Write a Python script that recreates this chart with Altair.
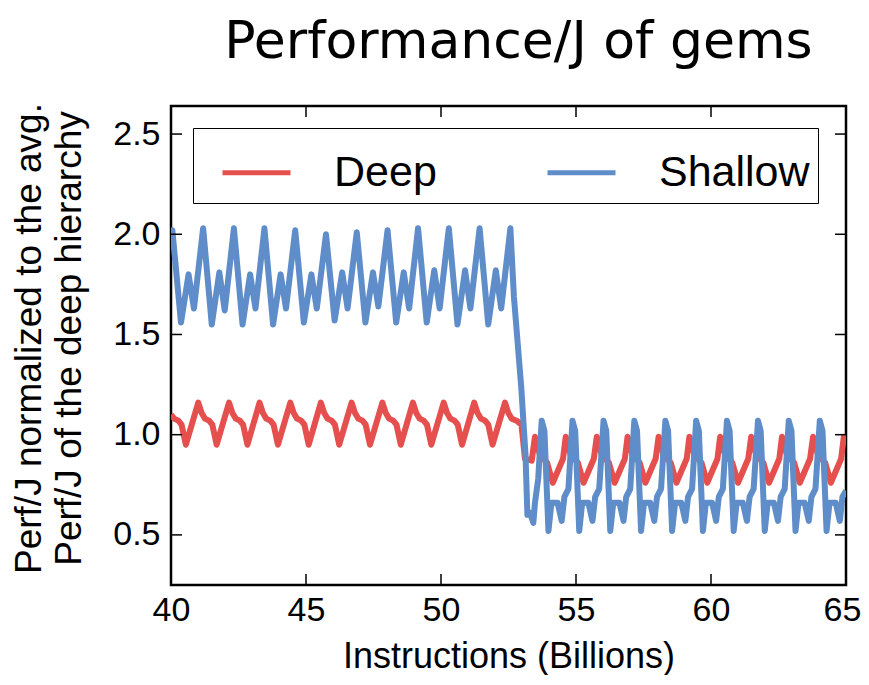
import altair as alt
import pandas as pd

# ---- data ----
deep_x = [40.00, 40.12, 40.27, 40.39, 40.55,
          41.01, 41.13, 41.26, 41.41, 41.53, 41.69,
          42.15, 42.27, 42.40, 42.55, 42.67, 42.83,
          43.28, 43.40, 43.53, 43.68, 43.80, 43.96,
          44.42, 44.54, 44.67, 44.82, 44.94, 45.10,
          45.55, 45.67, 45.80, 45.95, 46.07, 46.23,
          46.69, 46.81, 46.94, 47.09, 47.21, 47.37,
          47.83, 47.95, 48.08, 48.23, 48.35, 48.51,
          48.96, 49.08, 49.21, 49.36, 49.48, 49.64,
          50.10, 50.22, 50.35, 50.50, 50.62, 50.78,
          51.23, 51.35, 51.48, 51.63, 51.75, 51.91,
          52.37, 52.49, 52.62, 52.80, 52.98, 53.11, 53.36,
          53.48, 53.66, 53.93, 54.14, 54.33, 54.52,
          54.62, 54.80, 55.07, 55.28, 55.47, 55.66,
          55.77, 55.95, 56.22, 56.43, 56.62, 56.81,
          56.91, 57.09, 57.36, 57.57, 57.76, 57.95,
          58.06, 58.24, 58.51, 58.72, 58.91, 59.10,
          59.20, 59.38, 59.65, 59.86, 60.05, 60.24,
          60.34, 60.52, 60.79, 61.00, 61.19, 61.38,
          61.49, 61.67, 61.94, 62.15, 62.34, 62.53,
          62.63, 62.81, 63.08, 63.29, 63.48, 63.67,
          63.78, 63.96, 64.23, 64.44, 64.63, 64.82,
          64.92, 65.00]
deep_y = [1.10, 1.08, 1.07, 1.05, 0.95,
          1.16, 1.11, 1.08, 1.07, 1.05, 0.95,
          1.16, 1.11, 1.08, 1.07, 1.05, 0.95,
          1.16, 1.11, 1.08, 1.07, 1.05, 0.95,
          1.16, 1.11, 1.08, 1.07, 1.05, 0.95,
          1.16, 1.11, 1.08, 1.07, 1.05, 0.95,
          1.16, 1.11, 1.08, 1.07, 1.05, 0.95,
          1.16, 1.11, 1.08, 1.07, 1.05, 0.95,
          1.16, 1.11, 1.08, 1.07, 1.05, 0.95,
          1.16, 1.11, 1.08, 1.07, 1.05, 0.95,
          1.16, 1.11, 1.08, 1.07, 1.05, 0.95,
          1.16, 1.11, 1.08, 1.07, 1.05, 0.88, 0.87,
          0.99, 0.90, 0.86, 0.76, 0.82, 0.88,
          0.99, 0.90, 0.86, 0.76, 0.82, 0.88,
          0.99, 0.90, 0.86, 0.76, 0.82, 0.88,
          0.99, 0.90, 0.86, 0.76, 0.82, 0.88,
          0.99, 0.90, 0.86, 0.76, 0.82, 0.88,
          0.99, 0.90, 0.86, 0.76, 0.82, 0.88,
          0.99, 0.90, 0.86, 0.76, 0.82, 0.88,
          0.99, 0.90, 0.86, 0.76, 0.82, 0.88,
          0.99, 0.90, 0.86, 0.76, 0.82, 0.88,
          0.99, 0.90, 0.86, 0.76, 0.82, 0.88,
          0.99, 0.96]

shallow_x = [40.00, 40.05, 40.37, 40.65, 40.85,
             41.19, 41.51, 41.79, 41.99,
             42.33, 42.65, 42.93, 43.13,
             43.46, 43.78, 44.06, 44.26,
             44.60, 44.92, 45.20, 45.40,
             45.74, 46.06, 46.34, 46.54,
             46.88, 47.20, 47.48, 47.68,
             48.02, 48.34, 48.62, 48.82,
             49.15, 49.47, 49.75, 49.95,
             50.29, 50.61, 50.89, 51.09,
             51.43, 51.75, 52.03, 52.23,
             52.57, 52.70, 52.97, 53.13, 53.20, 53.30, 53.42, 53.48, 53.60,
             53.73, 53.83, 53.98, 54.09, 54.32, 54.47, 54.57, 54.72,
             54.87, 54.97, 55.12, 55.23, 55.46, 55.61, 55.71, 55.86,
             56.02, 56.12, 56.27, 56.38, 56.61, 56.76, 56.86, 57.01,
             57.16, 57.26, 57.41, 57.52, 57.75, 57.90, 58.00, 58.15,
             58.31, 58.41, 58.56, 58.67, 58.90, 59.05, 59.15, 59.30,
             59.45, 59.55, 59.70, 59.81, 60.04, 60.19, 60.29, 60.44,
             60.59, 60.69, 60.84, 60.95, 61.18, 61.33, 61.43, 61.58,
             61.74, 61.84, 61.99, 62.10, 62.33, 62.48, 62.58, 62.73,
             62.88, 62.98, 63.13, 63.24, 63.47, 63.62, 63.72, 63.87,
             64.03, 64.13, 64.28, 64.39, 64.62, 64.77, 64.87, 65.00]
shallow_y = [1.98, 2.02, 1.56, 1.80, 1.63,
             2.03, 1.55, 1.81, 1.62,
             2.03, 1.55, 1.80, 1.63,
             2.03, 1.55, 1.80, 1.63,
             2.02, 1.56, 1.80, 1.63,
             2.00, 1.57, 1.81, 1.63,
             2.01, 1.56, 1.81, 1.64,
             2.02, 1.56, 1.81, 1.63,
             2.03, 1.56, 1.82, 1.63,
             2.03, 1.55, 1.82, 1.63,
             2.03, 1.55, 1.82, 1.63,
             2.03, 1.69, 1.24, 0.90, 0.60, 0.61, 0.56, 0.66, 0.78,
             1.07, 1.02, 0.52, 0.66, 0.66, 0.57, 0.69, 0.73,
             1.07, 1.02, 0.52, 0.66, 0.66, 0.57, 0.69, 0.73,
             1.07, 1.02, 0.52, 0.66, 0.66, 0.57, 0.69, 0.73,
             1.07, 1.02, 0.52, 0.66, 0.66, 0.57, 0.69, 0.73,
             1.07, 1.02, 0.52, 0.66, 0.66, 0.57, 0.69, 0.73,
             1.07, 1.02, 0.52, 0.66, 0.66, 0.57, 0.69, 0.73,
             1.07, 1.02, 0.52, 0.66, 0.66, 0.57, 0.69, 0.73,
             1.07, 1.02, 0.52, 0.66, 0.66, 0.57, 0.69, 0.73,
             1.07, 1.02, 0.52, 0.66, 0.66, 0.57, 0.69, 0.73,
             1.07, 1.02, 0.52, 0.66, 0.66, 0.57, 0.69, 0.72]

series_names = ["Deep", "Shallow"]
series_colors = ["#E5504E", "#5E8DC9"]
x_ticks = [40, 45, 50, 55, 60, 65]
y_ticks = [0.5, 1.0, 1.5, 2.0, 2.5]
x_domain = [40, 65]
y_domain = [0.25, 2.64]

W, H = 675, 479
TICK = 11
FONT = "Liberation Sans"

lines_df = pd.concat([
    pd.DataFrame({"x": deep_x, "y": deep_y, "series": "Deep"}),
    pd.DataFrame({"x": shallow_x, "y": shallow_y, "series": "Shallow"}),
], ignore_index=True)
lines_df["order"] = range(len(lines_df))

xs = alt.Scale(domain=x_domain, nice=False, zero=False)
ys = alt.Scale(domain=y_domain, nice=False, zero=False)

x_axis = alt.Axis(
    values=x_ticks, title="Instructions (Billions)", ticks=False, domain=False, grid=False,
    labelFont=FONT, labelFontSize=34, labelColor="black", labelPadding=8,
    labelOffset={"condition": {"test": "datum.value == 65", "value": -4}, "value": 0},
    titleFont=FONT, titleFontSize=36, titleFontWeight="normal", titleColor="black",
    titleY=82, titleBaseline="alphabetic", labelFlush=False)
y_axis = alt.Axis(
    values=y_ticks, format=".1f", ticks=False, domain=False, grid=False,
    title=["Perf/J normalized to the avg.", "Perf/J of the deep hierarchy"],
    labelFont=FONT, labelFontSize=34, labelColor="black", labelPadding=11,
    titleFont=FONT, titleFontSize=37, titleFontWeight="normal", titleColor="black",
    titleX=-142, titleY=232, titleAngle=-90, titleBaseline="middle", titleAlign="center",
    titleLineHeight=40, labelFlush=False)

lines = alt.Chart(lines_df).mark_line(strokeWidth=6, clip=True, strokeJoin="round").encode(
    x=alt.X("x:Q", scale=xs, axis=x_axis),
    y=alt.Y("y:Q", scale=ys, axis=y_axis),
    color=alt.Color("series:N", scale=alt.Scale(domain=series_names, range=series_colors),
                    legend=alt.Legend(
                        title=None, orient="none", legendX=22, legendY=22, direction="horizontal",
                        columns=2, symbolType="stroke", symbolSize=4624, symbolStrokeWidth=5,
                        symbolOffset=19,
                        labelExpr="datum.label == 'Shallow' ? 'Shallow\u00a0\u00a0' : datum.label",
                        labelFont=FONT, labelFontSize=43, labelColor="black", labelOffset=41,
                        columnPadding=89, padding=8, strokeColor="black", fillColor="white",
                        labelLimit=400)),
    order="order:Q",
)

ytick_df = pd.DataFrame({"y": y_ticks})
xtick_df = pd.DataFrame({"x": x_ticks[1:-1]})

left_ticks = alt.Chart(ytick_df).mark_rule(color="black", strokeWidth=1.5).encode(
    y=alt.Y("y:Q", scale=ys, axis=y_axis), x=alt.value(0), x2=alt.value(TICK))
right_ticks = alt.Chart(ytick_df).mark_rule(color="black", strokeWidth=1.5).encode(
    y=alt.Y("y:Q", scale=ys, axis=y_axis), x=alt.value(W - TICK), x2=alt.value(W))
bottom_ticks = alt.Chart(xtick_df).mark_rule(color="black", strokeWidth=1.5).encode(
    x=alt.X("x:Q", scale=xs, axis=x_axis), y=alt.value(H - TICK), y2=alt.value(H))
top_ticks = alt.Chart(xtick_df).mark_rule(color="black", strokeWidth=1.5).encode(
    x=alt.X("x:Q", scale=xs, axis=x_axis), y=alt.value(0), y2=alt.value(TICK))

chart = alt.layer(lines, left_ticks, right_ticks, bottom_ticks, top_ticks).properties(
    width=W, height=H,
    background="white",
    autosize=alt.AutoSizeParams(type="none"),
    padding={"left": 163, "top": 98, "right": 15, "bottom": 90},
    title=alt.TitleParams("Performance/J of gems", font="DejaVu Sans", fontSize=52,
                          fontWeight="normal", color="black", anchor="middle", dx=10, offset=34),
).configure_view(stroke="black", strokeWidth=2.5)

chart.save("out.html", embed_options={"renderer": "svg", "actions": False})
